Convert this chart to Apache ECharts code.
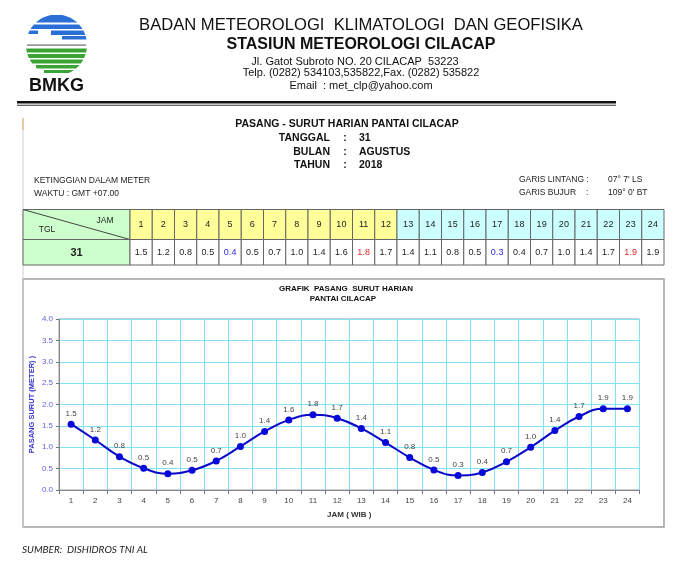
<!DOCTYPE html>
<html>
<head>
<meta charset="utf-8">
<script src="https://cdn.jsdelivr.net/npm/echarts@6/dist/echarts.min.js"></script>
<style>html,body{margin:0;padding:0;background:#fff}#main{width:680px;height:572px}</style>
</head>
<body>
<div id="main"></div>
<script>
// ---- data ----
const hours = ['1','2','3','4','5','6','7','8','9','10','11','12','13','14','15','16','17','18','19','20','21','22','23','24'];
const tideValues = [1.54,1.17,0.78,0.51,0.38,0.46,0.68,1.02,1.37,1.64,1.76,1.68,1.44,1.11,0.76,0.47,0.34,0.41,0.66,1.00,1.39,1.72,1.90,1.90];
const tideLabels = ['1.5','1.2','0.8','0.5','0.4','0.5','0.7','1.0','1.4','1.6','1.8','1.7','1.4','1.1','0.8','0.5','0.3','0.4','0.7','1.0','1.4','1.7','1.9','1.9'];
const lowHours = ['5','17'];
const highHours = ['11','23'];
const yTicks = [0,0.5,1,1.5,2,2.5,3,3.5,4];
const dayLabel = '31';
const monthLabel = 'AGUSTUS';
const yearLabel = '2018';

const FONT = '"Liberation Sans", Arial, sans-serif';
const chart = echarts.init(document.getElementById('main'), null, {renderer:'canvas'});

function txt(text, x, y, size, opts) {
  opts = opts || {};
  return {type:'text', silent:true, style:{text:text, x:x, y:y,
    font:(opts.italic?'italic ':'') + (opts.bold?'bold ':'') + size + 'px ' + (opts.family||FONT),
    fill:opts.color||'#111', textAlign:opts.align||'left', textVerticalAlign:'middle'}};
}
// stripe of the logo clipped to a circle
const LC = [56.5, 45], LR = 30.5;
function stripe(y1, y2, xa, xb, color) {
  const pts = [], n = 8;
  function half(y){ const d = LR*LR - (y-LC[1])*(y-LC[1]); return d>0?Math.sqrt(d):0; }
  for (let k=0;k<=n;k++){ const y=y1+(y2-y1)*k/n; pts.push([Math.max(LC[0]-half(y), xa==null?-1e9:xa), y]); }
  for (let k=n;k>=0;k--){ const y=y1+(y2-y1)*k/n; pts.push([Math.min(LC[0]+half(y), xb==null?1e9:xb), y]); }
  return {type:'polygon', silent:true, shape:{points:pts}, style:{fill:color}};
}
const blue = '#2a6fd6', green = '#3aa335';
const graphics = [
  stripe(15,22.5,null,null,blue),
  stripe(24.5,29,null,null,blue),
  stripe(30.5,34,null,38,blue),
  stripe(30.5,35,51,null,blue),
  stripe(36,39.5,62,null,blue),
  {type:'rect', silent:true, shape:{x:27,y:44.3,width:59,height:1.6}, style:{fill:'#9a9a9a'}},
  stripe(48.5,52.5,null,null,green),
  stripe(54,58,null,null,green),
  stripe(59.5,63.5,30,null,green),
  stripe(65,68.5,36,null,green),
  stripe(70,73,44,null,green),
  txt('BMKG', 56.5, 86, 18, {bold:true, align:'center', color:'#111'}),
  txt('BADAN METEOROLOGI  KLIMATOLOGI  DAN GEOFISIKA', 361, 25, 16.6, {align:'center'}),
  txt('STASIUN METEOROLOGI CILACAP', 361, 45, 16, {bold:true, align:'center'}),
  txt('Jl. Gatot Subroto NO. 20 CILACAP  53223', 355, 61.5, 11, {align:'center'}),
  txt('Telp. (0282) 534103,535822,Fax. (0282) 535822', 361, 73, 11, {align:'center'}),
  txt('Email  : met_clp@yahoo.com', 361, 85.5, 11, {align:'center'}),
  {type:'rect', silent:true, shape:{x:17,y:101,width:599,height:2.6}, style:{fill:'#111'}},
  {type:'rect', silent:true, shape:{x:17,y:104.8,width:599,height:1}, style:{fill:'#333'}},
  {type:'rect', silent:true, shape:{x:22.5,y:118,width:1,height:409}, style:{fill:'#cfcfcf'}},
  {type:'rect', silent:true, shape:{x:22.5,y:118,width:1,height:12}, style:{fill:'#e0b060'}},
  txt('PASANG - SURUT HARIAN PANTAI CILACAP', 347, 124, 10.5, {bold:true, align:'center'}),
  txt('TANGGAL', 330, 138, 10.5, {bold:true, align:'right'}),
  txt(':', 345, 138, 10.5, {bold:true, align:'center'}),
  txt(dayLabel, 359, 138, 10.5, {bold:true}),
  txt('BULAN', 330, 152, 10.5, {bold:true, align:'right'}),
  txt(':', 345, 152, 10.5, {bold:true, align:'center'}),
  txt(monthLabel, 359, 152, 10.5, {bold:true}),
  txt('TAHUN', 330, 165, 10.5, {bold:true, align:'right'}),
  txt(':', 345, 165, 10.5, {bold:true, align:'center'}),
  txt(yearLabel, 359, 165, 10.5, {bold:true}),
  txt('KETINGGIAN DALAM METER', 34, 180.5, 8.5, {color:'#222'}),
  txt('WAKTU : GMT +07.00', 34, 193.5, 8.5, {color:'#222'}),
  txt('GARIS LINTANG :', 519, 179.5, 8.5, {color:'#222'}),
  txt('07\u00B0 7\' LS', 608, 179.5, 8.5, {color:'#222'}),
  txt('GARIS BUJUR', 519, 193, 8.5, {color:'#222'}),
  txt(':', 586, 193, 8.5, {color:'#222'}),
  txt('109\u00B0 0\' BT', 608, 193, 8.5, {color:'#222'}),
  // TGL / JAM corner cell and date cell
  {type:'rect', silent:true, shape:{x:23,y:209.5,width:107,height:30}, style:{fill:'#ccffcc', stroke:'#666', lineWidth:1}},
  {type:'line', silent:true, shape:{x1:23,y1:209.5,x2:130,y2:239.5}, style:{stroke:'#444', lineWidth:1}},
  txt('JAM', 105, 220.5, 8.5, {align:'center', color:'#222'}),
  txt('TGL', 47, 230, 8.5, {align:'center', color:'#222'}),
  {type:'rect', silent:true, shape:{x:23,y:239.5,width:107,height:25.5}, style:{fill:'#ccffcc', stroke:'#666', lineWidth:1}},
  txt(dayLabel, 76.5, 252.5, 11, {bold:true, align:'center', color:'#222'}),
  // chart box
  {type:'rect', silent:true, z:-1, shape:{x:23,y:279,width:641,height:248}, style:{fill:'#fff', stroke:'#a0a0a0', lineWidth:1.5}},
  txt('GRAFIK  PASANG  SURUT HARIAN', 346, 289, 8, {bold:true, align:'center'}),
  txt('PANTAI CILACAP', 343, 298.5, 8, {bold:true, align:'center'}),
  txt('SUMBER:  DISHIDROS TNI AL', 22, 550, 10, {italic:true, color:'#222', family:'Lato, "Open Sans", sans-serif'})
];

function cellSeries(gridIdx, getText, getFill, getColor, fontSize) {
  return {
    type:'custom', xAxisIndex:gridIdx, yAxisIndex:gridIdx, silent:true,
    data: hours.map((h,i)=>[i,0]),
    renderItem: function(params, api){
      const i = api.value(0);
      const c = api.coord([i,0]);
      const s = api.size([1,1]);
      return {type:'group', children:[
        {type:'rect', shape:{x:c[0]-s[0]/2, y:c[1]-s[1]/2, width:s[0], height:s[1]},
          style:{fill:getFill(i), stroke:'#666', lineWidth:1}},
        {type:'text', style:{text:getText(i), x:c[0], y:c[1], textAlign:'center', textVerticalAlign:'middle',
          fill:getColor(i), font: fontSize + 'px ' + FONT}}
      ]};
    }
  };
}

const option = {
  backgroundColor:'#fff',
  animation:false,
  graphic: graphics,
  grid:[
    {left:59, top:319, width:580.5, height:171, show:true, borderColor:'#999', borderWidth:1, backgroundColor:'transparent'},
    {left:130, top:209.5, width:534, height:30},
    {left:130, top:239.5, width:534, height:25.5}
  ],
  xAxis:[
    {type:'category', gridIndex:0, data:hours, boundaryGap:true,
      name:'JAM ( WIB )', nameLocation:'middle', nameGap:21, nameMoveOverlap:false,
      nameTextStyle:{fontFamily:FONT, fontSize:8, fontWeight:'bold', color:'#333'},
      axisLine:{lineStyle:{color:'#888'}},
      axisTick:{show:true, length:4, lineStyle:{color:'#777'}},
      axisLabel:{fontFamily:FONT, fontSize:8, color:'#444', margin:7},
      splitLine:{show:true, lineStyle:{color:'#7fe3f5', width:1}}},
    {type:'category', gridIndex:1, data:hours, show:false},
    {type:'category', gridIndex:2, data:hours, show:false}
  ],
  yAxis:[
    {type:'value', gridIndex:0, min:0, max:4, interval:0.5,
      name:'PASANG SURUT (METER) )', nameLocation:'middle', nameGap:23, nameRotate:90, nameMoveOverlap:false,
      nameTextStyle:{fontFamily:FONT, fontSize:7.5, fontWeight:'bold', color:'#3535cc'},
      axisLine:{show:true, lineStyle:{color:'#888'}},
      axisTick:{show:true, length:3, lineStyle:{color:'#777'}},
      axisLabel:{fontFamily:FONT, fontSize:8, color:'#6262e0', margin:6,
        formatter:function(v){ return yTicks.indexOf(v)>=0 ? v.toFixed(1) : ''; }},
      splitLine:{show:true, lineStyle:{color:'#7fe3f5', width:1}}},
    {type:'category', gridIndex:1, data:['JAM'], show:false},
    {type:'category', gridIndex:2, data:[dayLabel], show:false}
  ],
  series:[
    {type:'line', xAxisIndex:0, yAxisIndex:0, data:tideValues, smooth:0.45,
      symbol:'circle', symbolSize:7,
      lineStyle:{color:'#0808c8', width:2},
      itemStyle:{color:'#0808d8'},
      label:{show:true, position:'top', distance:3, fontFamily:FONT, fontSize:8, color:'#444',
        formatter:function(p){ return tideLabels[p.dataIndex]; }}},
    cellSeries(1, i=>hours[i], i=>(i<12?'#ffff99':'#ccffff'), i=>'#222', 9),
    cellSeries(2, i=>tideLabels[i], i=>'#ffffff',
      i=>(lowHours.indexOf(hours[i])>=0?'#2a2ae0':(highHours.indexOf(hours[i])>=0?'#f02828':'#222')), 9)
  ]
};
chart.setOption(option);
</script>
</body>
</html>
